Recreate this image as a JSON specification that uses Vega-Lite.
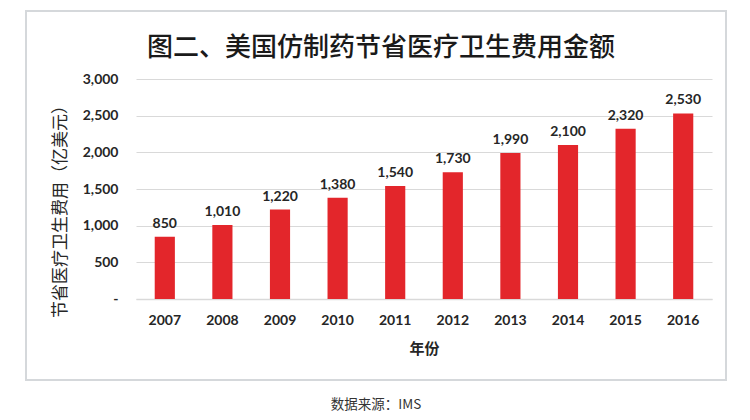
{
  "$schema": "https://vega.github.io/schema/vega-lite/v6.json",
  "padding": {"left": 25, "top": 10, "right": 0, "bottom": 0},
  "background": "white",
  "title": {
    "text": "数据来源：IMS",
    "orient": "bottom",
    "anchor": "middle",
    "font": "Noto Sans CJK SC",
    "fontSize": 13.5,
    "fontWeight": "normal",
    "color": "#333333",
    "offset": 17
  },
  "config": {
    "view": {"stroke": "#d5d8db", "strokeWidth": 2},
    "concat": {"spacing": 0}
  },
  "vconcat": [
    {
      "width": 700,
      "height": 369,
      "title": {
        "text": "图二、美国仿制药节省医疗卫生费用金额",
        "anchor": "middle",
        "font": "Noto Sans CJK SC",
        "fontSize": 26,
        "fontWeight": 500,
        "color": "#1a1a1a",
        "offset": -50,
        "dx": 5
      },
      "data": {
        "values": [
          {"year": "2007", "value": 850},
          {"year": "2008", "value": 1010},
          {"year": "2009", "value": 1220},
          {"year": "2010", "value": 1380},
          {"year": "2011", "value": 1540},
          {"year": "2012", "value": 1730},
          {"year": "2013", "value": 1990},
          {"year": "2014", "value": 2100},
          {"year": "2015", "value": 2320},
          {"year": "2016", "value": 2530}
        ]
      },
      "encoding": {
        "x": {
          "field": "year",
          "type": "ordinal",
          "scale": {"range": [110, 686], "paddingInner": 0.65, "paddingOuter": 0.325},
          "axis": {
            "orient": "bottom",
            "offset": -81,
            "title": "年份",
            "titleFont": "Noto Sans CJK SC",
            "titleFontSize": 15,
            "titleFontWeight": "bold",
            "titleColor": "#262626",
            "titlePadding": 14,
            "labelAngle": 0,
            "labelFont": "Lato",
            "labelFontSize": 14,
            "labelFontWeight": "bold",
            "labelColor": "#262626",
            "labelPadding": 14,
            "ticks": false,
            "domainColor": "#d9d9d9",
            "domainWidth": 1.5,
            "grid": false
          }
        },
        "y": {
          "field": "value",
          "type": "quantitative",
          "scale": {"domain": [0, 3000], "range": [288, 68], "nice": false},
          "axis": {
            "orient": "left",
            "offset": -110,
            "values": [0, 500, 1000, 1500, 2000, 2500, 3000],
            "labelExpr": "datum.value === 0 ? '-' : format(datum.value, ',')",
            "labelFont": "Lato",
            "labelFontSize": 14,
            "labelFontWeight": "bold",
            "labelColor": "#262626",
            "labelPadding": 18,
            "ticks": false,
            "domain": false,
            "grid": true,
            "gridColor": "#d9d9d9",
            "gridWidth": 1.2,
            "title": "节省医疗卫生费用（亿美元）",
            "titleFont": "Noto Sans CJK SC",
            "titleFontSize": 17,
            "titleFontWeight": "normal",
            "titleColor": "#262626",
            "titleX": -76,
            "titleY": 196,
            "titleAlign": "center",
            "titleBaseline": "middle",
            "titleAngle": -90
          }
        }
      },
      "layer": [
        {"mark": {"type": "bar", "color": "#e3262b"}},
        {
          "mark": {
            "type": "text",
            "baseline": "bottom",
            "dy": -6,
            "font": "Lato",
            "fontSize": 14,
            "fontWeight": "bold",
            "color": "#262626"
          },
          "encoding": {"text": {"field": "value", "type": "quantitative", "format": ","}}
        }
      ]
    }
  ]
}
